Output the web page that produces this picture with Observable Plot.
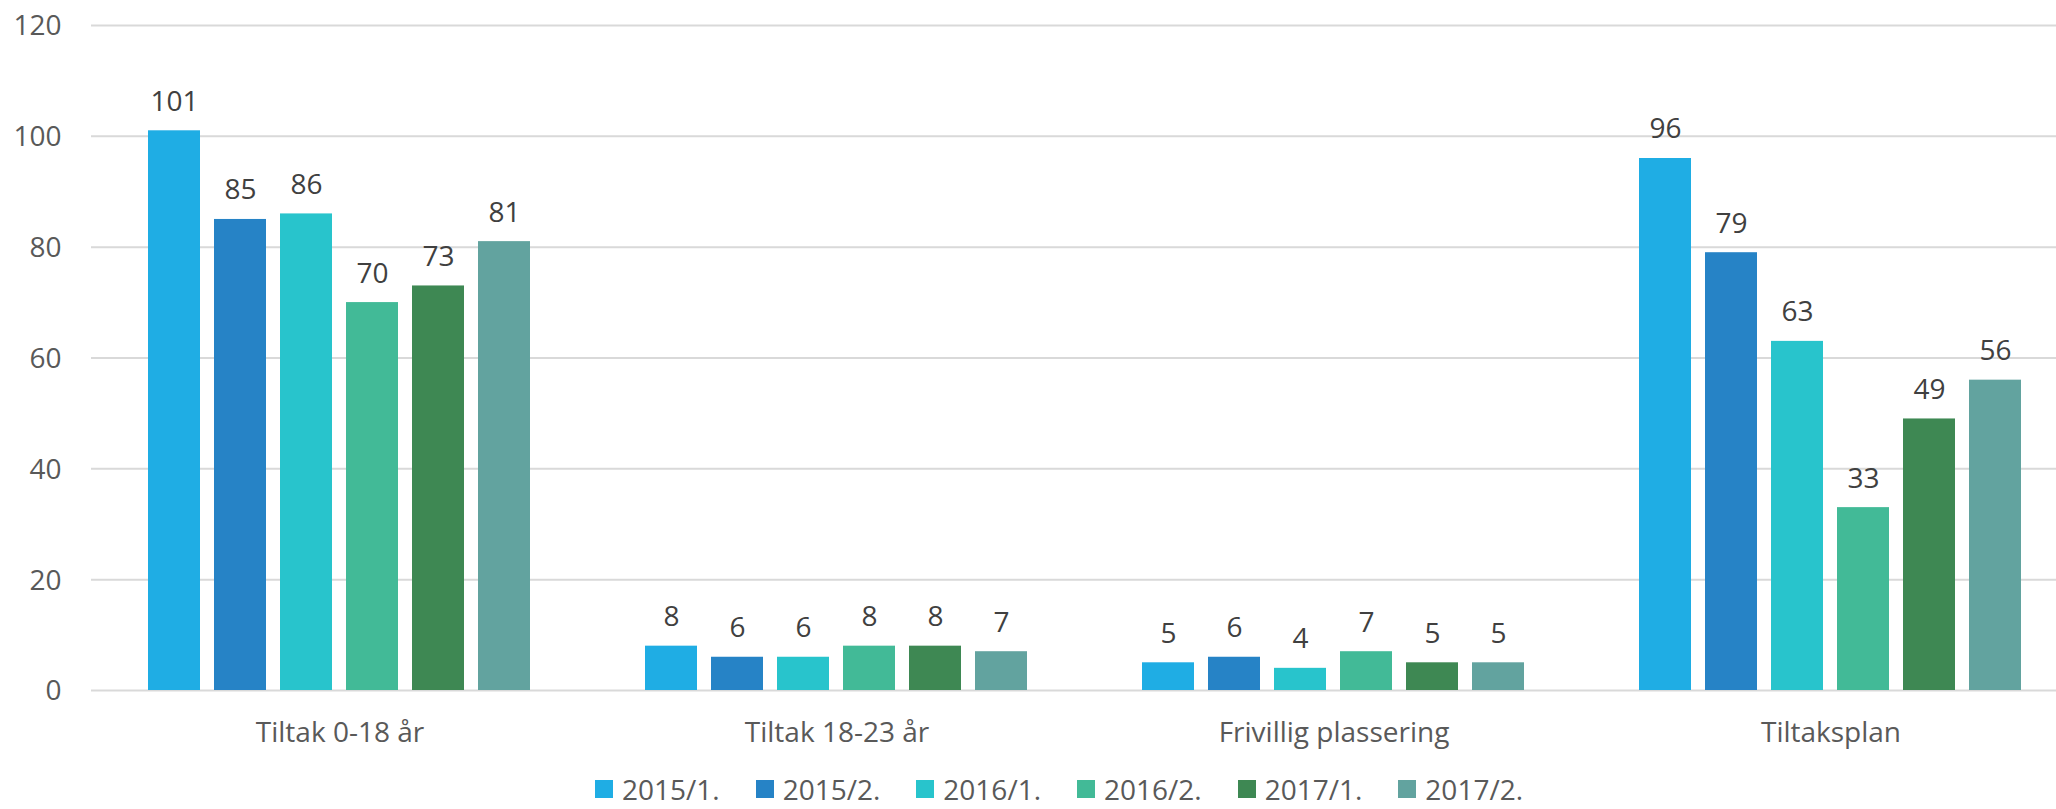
<!DOCTYPE html>
<html>
<head>
<meta charset="utf-8">
<script src="https://cdn.jsdelivr.net/npm/d3@7"></script>
<script src="https://cdn.jsdelivr.net/npm/@observablehq/plot@0.6"></script>
<style>
  html, body { margin: 0; padding: 0; background: #ffffff; }
  #wrap { position: relative; width: 2056px; height: 809px; overflow: hidden; background: #fff; }
  #chart { position: absolute; left: 0; top: 0; width: 2079px; }
  #chart svg { max-width: none !important; }
  #legend { position: absolute; left: 595px; top: 775px; display: flex; align-items: center;
            font-family: "Open Sans", sans-serif; font-size: 28px; line-height: 28px; color: #595959; white-space: nowrap; }
  #legend .item { display: flex; align-items: center; margin-right: 36px; }
  #legend .sw { width: 18px; height: 18px; margin-right: 9px; }
</style>
</head>
<body>
<div id="wrap">
  <div id="chart"></div>
  <div id="legend"></div>
</div>
<script>
const categories = ["Tiltak 0-18 år", "Tiltak 18-23 år", "Frivillig plassering", "Tiltaksplan"];
const seriesNames = ["2015/1.", "2015/2.", "2016/1.", "2016/2.", "2017/1.", "2017/2."];
const s2015_1 = [101, 8, 5, 96];
const s2015_2 = [85, 6, 6, 79];
const s2016_1 = [86, 6, 4, 63];
const s2016_2 = [70, 8, 7, 33];
const s2017_1 = [73, 8, 5, 49];
const s2017_2 = [81, 7, 5, 56];
const seriesColors = ["#1FADE4", "#2683C6", "#28C4CC", "#42BA97", "#3E8853", "#62A39F"];
const yTicks = [0, 20, 40, 60, 80, 100, 120];

const seriesValues = [s2015_1, s2015_2, s2016_1, s2016_2, s2017_1, s2017_2];
const data = [];
categories.forEach((c, ci) => {
  seriesNames.forEach((s, si) => {
    data.push({cat: c, series: s, value: seriesValues[si][ci]});
  });
});

const chart = Plot.plot({
  width: 2079,
  height: 760,
  marginTop: 25,
  marginBottom: 70,
  marginLeft: 91,
  marginRight: 0,
  style: {fontFamily: "Open Sans, sans-serif", fontSize: "28px", color: "#595959", background: "transparent", maxWidth: "none"},
  fx: {domain: categories, padding: 0, label: null},
  x: {domain: seriesNames, paddingInner: 0.212, paddingOuter: 0.871, axis: null},
  y: {domain: [0, 120], axis: null},
  color: {domain: seriesNames, range: seriesColors},
  marks: [
    Plot.gridY(yTicks, {stroke: "#d9d9d9", strokeOpacity: 1, strokeWidth: 2}),
    Plot.axisY(yTicks, {tickSize: 0, tickPadding: 30, label: null, fill: "#595959", dy: 1}),
    Plot.axisFx({anchor: "bottom", tickSize: 0, tickPadding: 32, label: null, fill: "#595959"}),
    Plot.barY(data, {fx: "cat", x: "series", y: "value", fill: "series"}),
    Plot.text(data, {fx: "cat", x: "series", y: "value", text: d => String(d.value),
      lineAnchor: "middle", dy: -29, fill: "#404040", fontSize: 28})
  ]
});
document.getElementById("chart").appendChild(chart);

const legend = document.getElementById("legend");
seriesNames.forEach((s, i) => {
  const item = document.createElement("div");
  item.className = "item";
  const sw = document.createElement("div");
  sw.className = "sw";
  sw.style.background = seriesColors[i];
  const t = document.createElement("span");
  t.textContent = s;
  item.appendChild(sw);
  item.appendChild(t);
  legend.appendChild(item);
});
</script>
</body>
</html>
